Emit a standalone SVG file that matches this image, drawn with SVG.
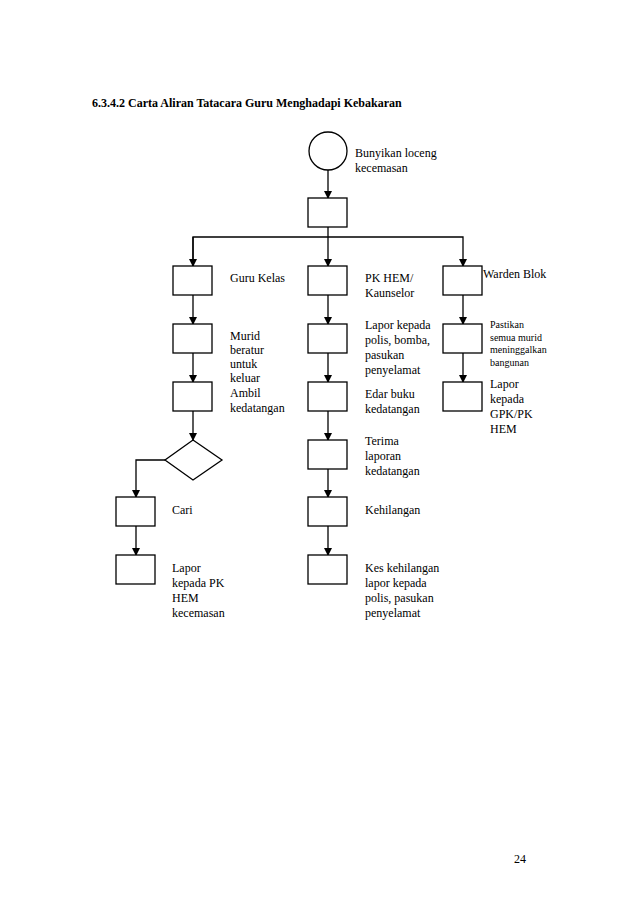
<svg xmlns="http://www.w3.org/2000/svg" width="638" height="903" viewBox="0 0 638 903">
<style>
.b{fill:#fff;stroke:#000;stroke-width:1.3}
.c{fill:none;stroke:#000;stroke-width:1.3}
text{font-family:"Liberation Serif",serif;font-size:12px;fill:#000}
.s{font-size:10px}
</style>
<defs><marker id="a" markerWidth="8" markerHeight="8" refX="7" refY="4" orient="auto" markerUnits="userSpaceOnUse"><path d="M0,0L8,4L0,8z"/></marker></defs>
<rect width="638" height="903" fill="#fff"/>
<text x="92" y="107" font-weight="bold">6.3.4.2 Carta Aliran Tatacara Guru Menghadapi Kebakaran</text>
<g id="connectors" class="c">
<path d="M328,170V198" marker-end="url(#a)"/>
<path d="M328,227V266" marker-end="url(#a)"/>
<path d="M193,266V237H463V266" marker-end="url(#a)"/>
<path d="M193,237V266" marker-end="url(#a)"/>
<path d="M193,295V324" marker-end="url(#a)"/>
<path d="M193,353V382" marker-end="url(#a)"/>
<path d="M193,411V440" marker-end="url(#a)"/>
<path d="M165,460H136V497" marker-end="url(#a)"/>
<path d="M136,526V555" marker-end="url(#a)"/>
<path d="M328,295V324" marker-end="url(#a)"/>
<path d="M328,353V382" marker-end="url(#a)"/>
<path d="M328,411V440" marker-end="url(#a)"/>
<path d="M328,469V497" marker-end="url(#a)"/>
<path d="M328,526V555" marker-end="url(#a)"/>
<path d="M463,295V324" marker-end="url(#a)"/>
<path d="M463,353V382" marker-end="url(#a)"/>
</g>
<g id="start"><circle class="b" cx="328" cy="151" r="19"/><text x="355" y="157">Bunyikan loceng</text><text x="355" y="172">kecemasan</text></g>
<g id="n0"><rect class="b" x="308" y="198" width="39" height="29"/></g>
<g id="l1"><rect class="b" x="173" y="266" width="39" height="29"/><text x="230" y="282">Guru Kelas</text></g>
<g id="l2"><rect class="b" x="173" y="324" width="39" height="29"/><text x="230" y="340">Murid</text><text x="230" y="354">beratur</text><text x="230" y="368">untuk</text><text x="230" y="382">keluar</text></g>
<g id="l3"><rect class="b" x="173" y="382" width="39" height="29"/><text x="230" y="397">Ambil</text><text x="230" y="412">kedatangan</text></g>
<g id="dec"><path class="b" d="M193,440L222,460L193,480L165,460Z"/></g>
<g id="l4"><rect class="b" x="116" y="497" width="39" height="29"/><text x="172" y="514">Cari</text></g>
<g id="l5"><rect class="b" x="116" y="555" width="39" height="29"/><text x="172" y="572">Lapor</text><text x="172" y="587">kepada PK</text><text x="172" y="602">HEM</text><text x="172" y="617">kecemasan</text></g>
<g id="m1"><rect class="b" x="308" y="266" width="39" height="29"/><text x="365" y="282">PK HEM/</text><text x="365" y="297">Kaunselor</text></g>
<g id="m2"><rect class="b" x="308" y="324" width="39" height="29"/><text x="365" y="329">Lapor kepada</text><text x="365" y="344">polis, bomba,</text><text x="365" y="359">pasukan</text><text x="365" y="374">penyelamat</text></g>
<g id="m3"><rect class="b" x="308" y="382" width="39" height="29"/><text x="365" y="398">Edar buku</text><text x="365" y="413">kedatangan</text></g>
<g id="m4"><rect class="b" x="308" y="440" width="39" height="29"/><text x="365" y="445">Terima</text><text x="365" y="460">laporan</text><text x="365" y="475">kedatangan</text></g>
<g id="m5"><rect class="b" x="308" y="497" width="39" height="29"/><text x="365" y="514">Kehilangan</text></g>
<g id="m6"><rect class="b" x="308" y="555" width="39" height="29"/><text x="365" y="572">Kes kehilangan</text><text x="365" y="587">lapor kepada</text><text x="365" y="602">polis, pasukan</text><text x="365" y="617">penyelamat</text></g>
<g id="r1"><rect class="b" x="443" y="266" width="39" height="29"/><text x="483" y="278">Warden Blok</text></g>
<g id="r2"><rect class="b" x="443" y="324" width="39" height="29"/><text class="s" x="490" y="328">Pastikan</text><text class="s" x="490" y="341">semua murid</text><text class="s" x="490" y="353">meninggalkan</text><text class="s" x="490" y="366">bangunan</text></g>
<g id="r3"><rect class="b" x="443" y="382" width="39" height="29"/><text x="490" y="388">Lapor</text><text x="490" y="403">kepada</text><text x="490" y="418">GPK/PK</text><text x="490" y="433">HEM</text></g>
<text x="514" y="863">24</text>
</svg>
